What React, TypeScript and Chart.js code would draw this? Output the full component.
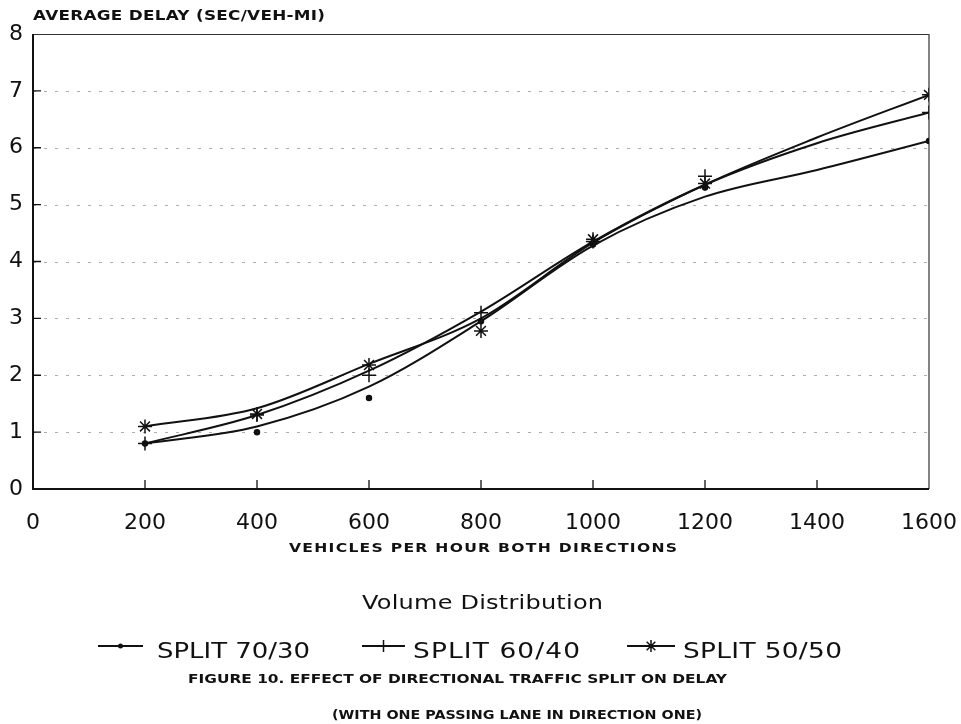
import { useEffect, useRef } from "react";
import { Chart, registerables } from "chart.js";

Chart.register(...registerables);

// Observed average delay at each volume, per directional split
const volumes = [200, 400, 600, 800, 1000, 1200, 1600];
const split7030 = [0.8, 1.0, 1.6, 2.95, 4.3, 5.3, 6.12];
const split6040 = [0.8, 1.3, 2.0, 3.1, 4.35, 5.5, 6.62];
const split5050 = [1.1, 1.32, 2.18, 2.78, 4.39, 5.37, 6.93];

// Fitted curve values for each split
const fitVolumes = [200, 400, 600, 800, 1000, 1200, 1400, 1600];
const fit7030 = [0.8, 1.1, 1.8, 2.95, 4.28, 5.14, 5.61, 6.12];
const fit6040 = [0.8, 1.3, 2.08, 3.12, 4.35, 5.35, 6.08, 6.62];
const fit5050 = [1.1, 1.42, 2.2, 3.0, 4.33, 5.35, 6.18, 6.93];

const xTicks = [0, 200, 400, 600, 800, 1000, 1200, 1400, 1600];
const yTicks = [0, 1, 2, 3, 4, 5, 6, 7, 8];

const seriesNames = ["SPLIT 70/30", "SPLIT 60/40", "SPLIT 50/50"];
const markerStyles = ["circle", "cross", "star"] as const;

const INK = "#111";

function toPoints(xs: number[], ys: number[]) {
  return xs.map((x, i) => ({ x, y: ys[i] }));
}

// Draws text spanning a given width: glyphs are widened a little, then spaced
function fitText(
  ctx: CanvasRenderingContext2D,
  text: string,
  x: number,
  y: number,
  width: number,
  font: string,
  maxStretch = 1.2
) {
  ctx.save();
  ctx.font = font;
  (ctx as any).letterSpacing = "0px";
  const w = ctx.measureText(text).width;
  const stretch = Math.max(0.85, Math.min(maxStretch, width / w));
  const spacing = (width / stretch - w) / Math.max(1, text.length - 1);
  (ctx as any).letterSpacing = `${spacing}px`;
  ctx.translate(x, y);
  ctx.scale(stretch, 1);
  ctx.fillStyle = INK;
  ctx.textAlign = "left";
  ctx.textBaseline = "middle";
  ctx.fillText(text, 0, 0);
  ctx.restore();
}

function drawMarker(ctx: CanvasRenderingContext2D, style: string, x: number, y: number) {
  ctx.save();
  ctx.strokeStyle = INK;
  ctx.fillStyle = INK;
  ctx.lineWidth = 1.5;
  if (style === "circle") {
    ctx.beginPath();
    ctx.arc(x, y, 2.5, 0, Math.PI * 2);
    ctx.fill();
  } else {
    const r = 6;
    ctx.beginPath();
    ctx.moveTo(x - r, y);
    ctx.lineTo(x + r, y);
    ctx.moveTo(x, y - r);
    ctx.lineTo(x, y + r);
    if (style === "star") {
      const d = r * 0.72;
      ctx.moveTo(x - d, y - d);
      ctx.lineTo(x + d, y + d);
      ctx.moveTo(x - d, y + d);
      ctx.lineTo(x + d, y - d);
    }
    ctx.stroke();
  }
  ctx.restore();
}

// Grid, frame and inward tick marks, plus titles, legend and caption
const framePlugin = {
  id: "frame",
  beforeDatasetsDraw(chart: any) {
    const { ctx, chartArea, scales } = chart;
    const { left, right, top, bottom } = chartArea;
    ctx.save();
    // dotted horizontal guides
    ctx.strokeStyle = "rgba(0,0,0,0.32)";
    ctx.lineWidth = 1;
    ctx.setLineDash([3, 8]);
    for (const v of yTicks) {
      if (v === 0 || v === 8) continue;
      const py = Math.round(scales.y.getPixelForValue(v)) + 0.5;
      ctx.beginPath();
      ctx.moveTo(left, py);
      ctx.lineTo(right, py);
      ctx.stroke();
    }
    ctx.setLineDash([]);
    // top and right frame
    ctx.strokeStyle = "#333";
    ctx.lineWidth = 1.2;
    ctx.beginPath();
    ctx.moveTo(left, top + 0.5);
    ctx.lineTo(right, top + 0.5);
    ctx.moveTo(right, top);
    ctx.lineTo(right, bottom);
    ctx.stroke();
    // left and bottom axes
    ctx.strokeStyle = INK;
    ctx.lineWidth = 2;
    ctx.beginPath();
    ctx.moveTo(left, top);
    ctx.lineTo(left, bottom);
    ctx.lineTo(right, bottom);
    ctx.stroke();
    // tick marks pointing into the plot
    ctx.lineWidth = 1.3;
    ctx.beginPath();
    for (const v of yTicks) {
      if (v === 0 || v === 8) continue;
      const py = scales.y.getPixelForValue(v);
      ctx.moveTo(left, py);
      ctx.lineTo(left + 8, py);
    }
    for (const v of xTicks) {
      if (v === 0 || v === 1600) continue;
      const px = scales.x.getPixelForValue(v);
      ctx.moveTo(px, bottom);
      ctx.lineTo(px, bottom - 9);
    }
    ctx.stroke();
    ctx.restore();
  },
  afterDraw(chart: any) {
    const { ctx } = chart;
    fitText(ctx, "AVERAGE DELAY (SEC/VEH-MI)", 33, 16, 292, "bold 14px 'DejaVu Sans'");
    fitText(ctx, "VEHICLES PER HOUR BOTH DIRECTIONS", 289, 549, 388, "bold 13px 'DejaVu Sans'");
    fitText(ctx, "Volume Distribution", 362, 604, 241, "20px 'DejaVu Sans'");

    const lineSpans = [
      [98, 143],
      [362, 405],
      [627, 675],
    ];
    const textSpans = [
      [157, 153],
      [413, 167],
      [683, 159],
    ];
    seriesNames.forEach((name, i) => {
      const [x1, x2] = lineSpans[i];
      const ly = 646;
      ctx.save();
      ctx.strokeStyle = INK;
      ctx.lineWidth = 2;
      ctx.beginPath();
      ctx.moveTo(x1, ly);
      ctx.lineTo(x2, ly);
      ctx.stroke();
      ctx.restore();
      drawMarker(ctx, markerStyles[i], (x1 + x2) / 2, ly);
      fitText(ctx, name, textSpans[i][0], 652, textSpans[i][1], "22px 'DejaVu Sans'");
    });

    fitText(
      ctx,
      "FIGURE 10. EFFECT OF DIRECTIONAL TRAFFIC SPLIT ON DELAY",
      188,
      680,
      539,
      "bold 13px 'DejaVu Sans'"
    );
    fitText(
      ctx,
      "(WITH ONE PASSING LANE IN DIRECTION ONE)",
      332,
      716,
      370,
      "bold 13px 'DejaVu Sans'"
    );
  },
};

export default function App() {
  const canvasRef = useRef<HTMLCanvasElement | null>(null);

  useEffect(() => {
    if (!canvasRef.current) return;
    const curve = (data: number[]) => ({
      type: "line" as const,
      data: toPoints(fitVolumes, data),
      borderColor: INK,
      borderWidth: 2,
      pointRadius: 0,
      cubicInterpolationMode: "monotone" as const,
      fill: false,
      showLine: true,
    });
    const marks = (data: number[], style: string, radius: number) => ({
      type: "scatter" as const,
      data: toPoints(volumes, data),
      showLine: false,
      pointStyle: style,
      pointRadius: radius,
      pointBorderWidth: 1.5,
      pointBorderColor: INK,
      pointBackgroundColor: INK,
    });

    const chart = new Chart(canvasRef.current, {
      type: "scatter",
      data: {
        datasets: [
          curve(fit7030),
          curve(fit6040),
          curve(fit5050),
          marks(split7030, "circle", 2.5),
          marks(split6040, "cross", 7),
          marks(split5050, "star", 7),
        ] as any,
      },
      options: {
        responsive: false,
        animation: false,
        devicePixelRatio: 1,
        layout: { padding: { top: 34, right: 32, left: 0, bottom: 0 } },
        plugins: {
          legend: { display: false },
          tooltip: { enabled: false },
          title: { display: false },
        },
        scales: {
          x: {
            type: "linear",
            min: 0,
            max: 1600,
            afterBuildTicks: (scale: any) => {
              scale.ticks = xTicks.map((v) => ({ value: v }));
            },
            afterFit: (scale: any) => {
              scale.height = 235;
              scale.paddingLeft = 0;
              scale.paddingRight = 0;
            },
            grid: { display: false, drawTicks: false },
            border: { display: false },
            ticks: {
              color: INK,
              font: { family: "'DejaVu Sans'", size: 22 },
              padding: 21,
              maxRotation: 0,
              autoSkip: false,
              callback: (v: any) => String(v),
            },
          },
          y: {
            type: "linear",
            min: 0,
            max: 8,
            afterBuildTicks: (scale: any) => {
              scale.ticks = yTicks.map((v) => ({ value: v }));
            },
            afterFit: (scale: any) => {
              scale.width = 33;
              scale.paddingTop = 0;
              scale.paddingBottom = 0;
            },
            grid: { display: false, drawTicks: false },
            border: { display: false },
            ticks: {
              color: INK,
              font: { family: "'DejaVu Sans'", size: 22 },
              padding: 10,
              callback: (v: any) => String(v),
            },
          },
        },
      },
      plugins: [framePlugin],
    });
    return () => chart.destroy();
  }, []);

  return (
    <div style={{ position: "fixed", left: 0, top: 0, width: 961, height: 724, background: "#fff" }}>
      <canvas ref={canvasRef} width={961} height={724} />
    </div>
  );
}
